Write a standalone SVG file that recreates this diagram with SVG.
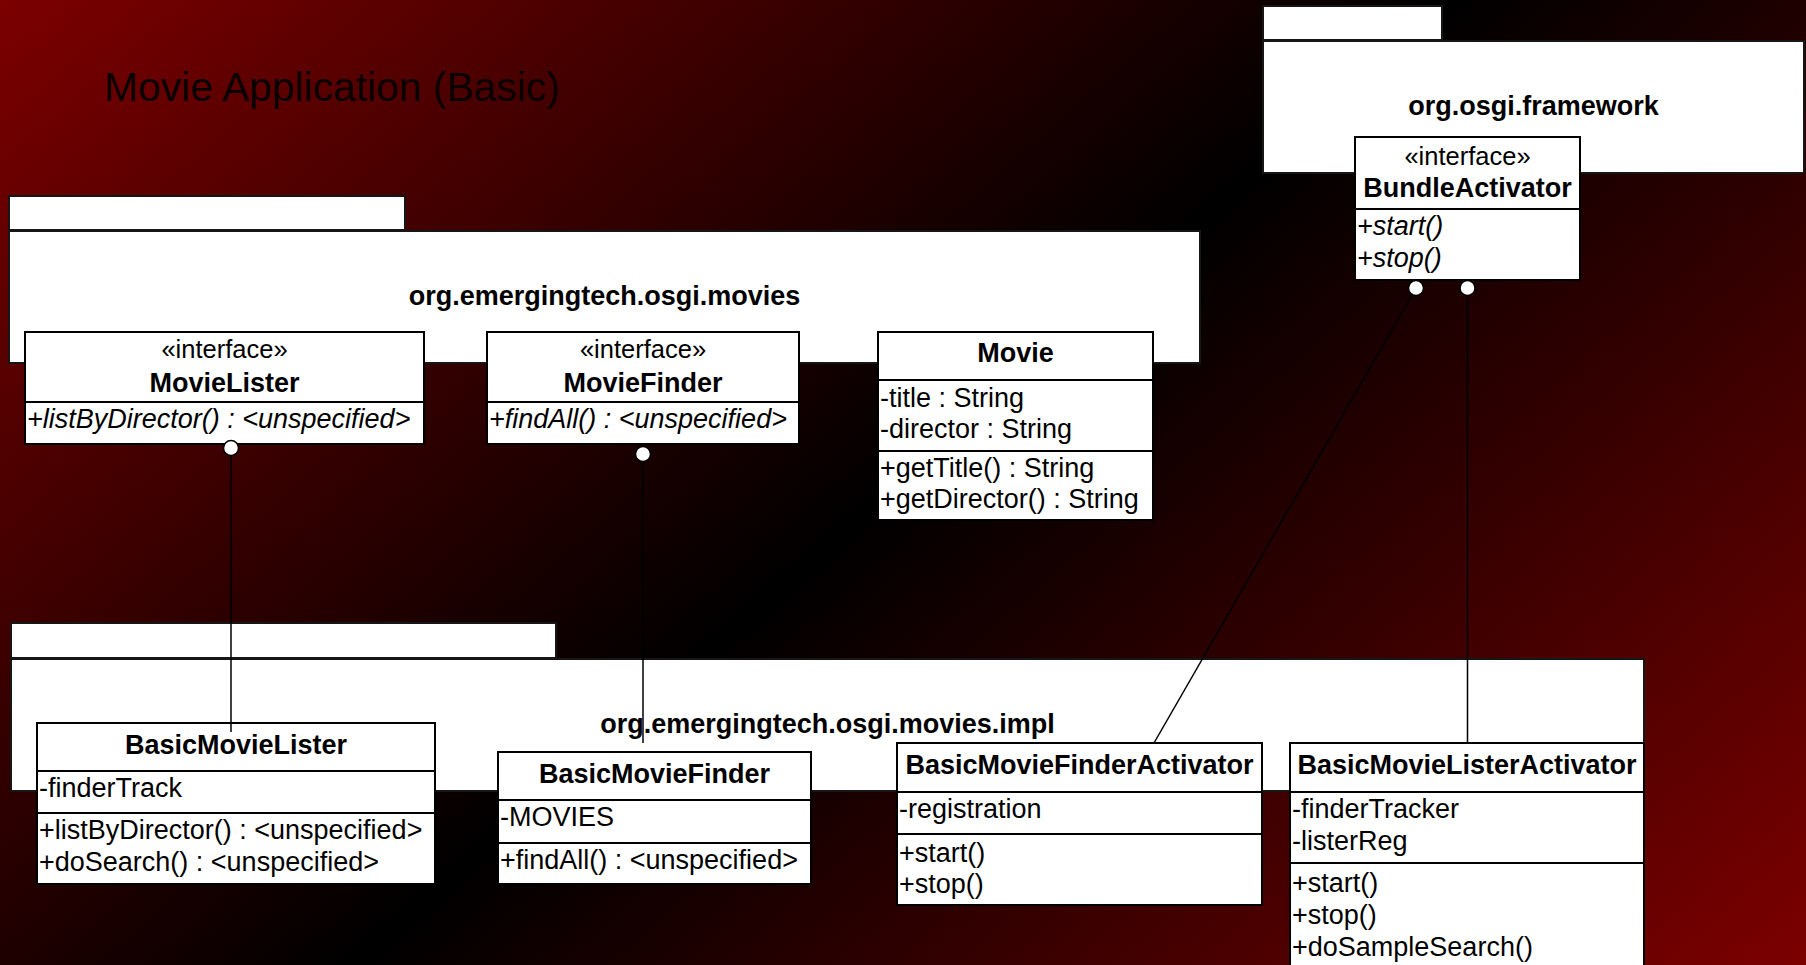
<svg xmlns="http://www.w3.org/2000/svg" width="1806" height="965" viewBox="0 0 1806 965">
  <defs>
    <linearGradient id="bg" gradientUnits="userSpaceOnUse" x1="270" y1="-237" x2="1533" y2="1204">
      <stop offset="0" stop-color="#7c0000"/>
      <stop offset="0.5" stop-color="#000000"/>
      <stop offset="1" stop-color="#7c0000"/>
    </linearGradient>
    <style>
      text { font-family: "Liberation Sans", Arial, sans-serif; fill: #000; }
      .pkg rect { fill: #fff; stroke: #161616; stroke-width: 2; }
      .box { fill: #fff; stroke: #000; stroke-width: 2; }
      .sep { stroke: #000; stroke-width: 2; }
      .title { font-size: 40.8px; fill: #0a0000; }
      .pl { font-size: 27px; font-weight: bold; text-anchor: middle; }
      .st { font-size: 25.5px; text-anchor: middle; }
      .cn { font-size: 27px; font-weight: bold; text-anchor: middle; }
      .m { font-size: 27px; }
      .it { font-style: italic; }
      .conn line { stroke: #000; stroke-width: 1.5; }
      .lol { fill: #fff; stroke: #000; stroke-width: 1.5; }
    </style>
  </defs>

  <rect x="0" y="0" width="1806" height="965" fill="url(#bg)"/>

  <text class="title" x="104" y="101">Movie Application (Basic)</text>

  <!-- Packages -->
  <g id="pkg-movies" class="pkg">
    <rect x="9" y="196" width="396" height="34"/>
    <rect x="9" y="231" width="1191" height="132"/>
    <text class="pl" x="604.5" y="305">org.emergingtech.osgi.movies</text>
  </g>
  <g id="pkg-framework" class="pkg">
    <rect x="1263" y="6" width="179" height="34"/>
    <rect x="1263" y="41" width="541" height="132"/>
    <text class="pl" x="1533.5" y="115">org.osgi.framework</text>
  </g>
  <g id="pkg-impl" class="pkg">
    <rect x="11" y="623" width="545" height="35"/>
    <rect x="11" y="659" width="1633" height="132"/>
    <text class="pl" x="827.5" y="733">org.emergingtech.osgi.movies.impl</text>
  </g>

  <!-- Classes -->
  <g id="MovieLister">
    <rect class="box" x="25" y="332" width="399" height="112"/>
    <line class="sep" x1="25" y1="402" x2="424" y2="402"/>
    <text class="st" x="224.5" y="358">«interface»</text>
    <text class="cn" x="224.5" y="392">MovieLister</text>
    <text class="m it" x="27" y="428">+listByDirector() : &lt;unspecified&gt;</text>
  </g>

  <g id="MovieFinder">
    <rect class="box" x="487" y="332" width="312" height="112"/>
    <line class="sep" x1="487" y1="402" x2="799" y2="402"/>
    <text class="st" x="643" y="358">«interface»</text>
    <text class="cn" x="643" y="392">MovieFinder</text>
    <text class="m it" x="489" y="428">+findAll() : &lt;unspecified&gt;</text>
  </g>

  <g id="Movie">
    <rect class="box" x="878" y="332" width="275" height="188"/>
    <line class="sep" x1="878" y1="380" x2="1153" y2="380"/>
    <line class="sep" x1="878" y1="451" x2="1153" y2="451"/>
    <text class="cn" x="1015.5" y="362">Movie</text>
    <text class="m" x="880" y="407">-title : String</text>
    <text class="m" x="880" y="438">-director : String</text>
    <text class="m" x="880" y="477">+getTitle() : String</text>
    <text class="m" x="880" y="508">+getDirector() : String</text>
  </g>

  <g id="BundleActivator">
    <rect class="box" x="1355" y="137" width="225" height="143"/>
    <line class="sep" x1="1355" y1="209" x2="1580" y2="209"/>
    <text class="st" x="1467.5" y="165">«interface»</text>
    <text class="cn" x="1467.5" y="197">BundleActivator</text>
    <text class="m it" x="1357" y="235">+start()</text>
    <text class="m it" x="1357" y="267">+stop()</text>
  </g>

  <g id="BasicMovieLister">
    <rect class="box" x="37" y="723" width="398" height="161"/>
    <line class="sep" x1="37" y1="771" x2="435" y2="771"/>
    <line class="sep" x1="37" y1="813" x2="435" y2="813"/>
    <text class="cn" x="236" y="754">BasicMovieLister</text>
    <text class="m" x="39" y="797">-finderTrack</text>
    <text class="m" x="39" y="839">+listByDirector() : &lt;unspecified&gt;</text>
    <text class="m" x="39" y="871">+doSearch() : &lt;unspecified&gt;</text>
  </g>

  <g id="BasicMovieFinder">
    <rect class="box" x="498" y="752" width="313" height="132"/>
    <line class="sep" x1="498" y1="800" x2="811" y2="800"/>
    <line class="sep" x1="498" y1="843" x2="811" y2="843"/>
    <text class="cn" x="654.5" y="783">BasicMovieFinder</text>
    <text class="m" x="500" y="826">-MOVIES</text>
    <text class="m" x="500" y="869">+findAll() : &lt;unspecified&gt;</text>
  </g>

  <g id="BasicMovieFinderActivator">
    <rect class="box" x="897" y="743" width="365" height="162"/>
    <line class="sep" x1="897" y1="792" x2="1262" y2="792"/>
    <line class="sep" x1="897" y1="834" x2="1262" y2="834"/>
    <text class="cn" x="1079.5" y="774">BasicMovieFinderActivator</text>
    <text class="m" x="899" y="818">-registration</text>
    <text class="m" x="899" y="862">+start()</text>
    <text class="m" x="899" y="893">+stop()</text>
  </g>

  <g id="BasicMovieListerActivator">
    <rect class="box" x="1290" y="743" width="354" height="240"/>
    <line class="sep" x1="1290" y1="792" x2="1644" y2="792"/>
    <line class="sep" x1="1290" y1="863" x2="1644" y2="863"/>
    <text class="cn" x="1467" y="774">BasicMovieListerActivator</text>
    <text class="m" x="1292" y="818">-finderTracker</text>
    <text class="m" x="1292" y="850">-listerReg</text>
    <text class="m" x="1292" y="892">+start()</text>
    <text class="m" x="1292" y="924">+stop()</text>
    <text class="m" x="1292" y="956">+doSampleSearch()</text>
  </g>

  <!-- Connectors (interface realization, lollipop notation) -->
  <g id="connectors" class="conn">
    <line x1="231" y1="455" x2="231" y2="732"/>
    <circle class="lol" cx="231" cy="448" r="7.5"/>
    <line x1="643" y1="461" x2="643" y2="743"/>
    <circle class="lol" cx="643" cy="454" r="7.5"/>
    <line x1="1412" y1="295" x2="1154" y2="743"/>
    <circle class="lol" cx="1416" cy="288" r="7.5"/>
    <line x1="1467.5" y1="295.5" x2="1467.5" y2="743"/>
    <circle class="lol" cx="1467.5" cy="288" r="7.5"/>
  </g>
</svg>
